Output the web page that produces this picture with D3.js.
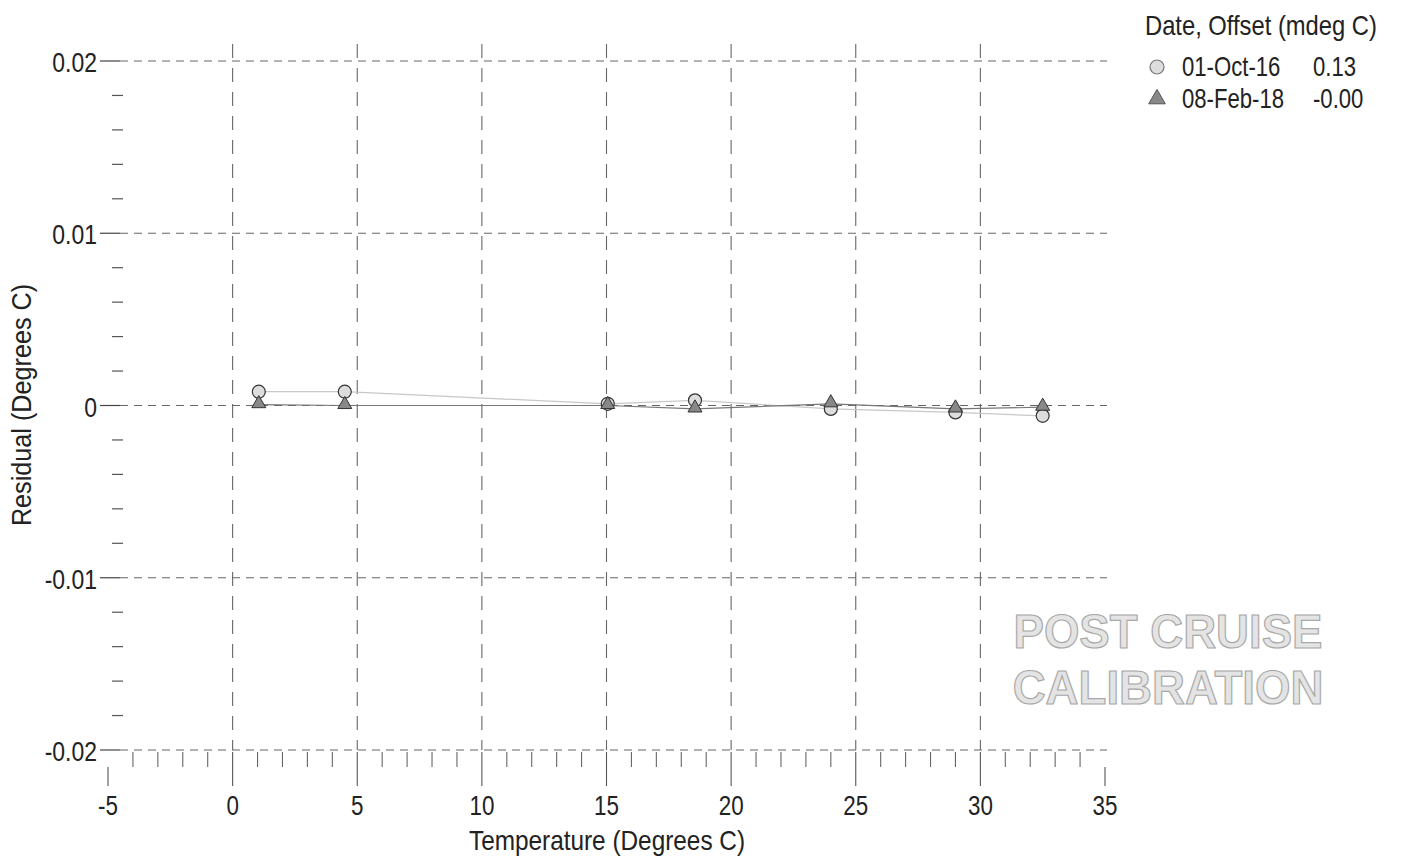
<!DOCTYPE html>
<html>
<head>
<meta charset="utf-8">
<script src="https://cdn.jsdelivr.net/npm/d3@7"></script>
<style>
  body { margin: 0; background: #fff; }
  svg { font-family: "Liberation Sans", Arial, sans-serif; }
</style>
</head>
<body>
<svg></svg>
<script>
// data
const temps = [1.05, 4.5, 15.05, 18.55, 24.0, 29.0, 32.5];
const resOct16 = [0.0008, 0.0008, 0.0001, 0.0003, -0.0002, -0.0004, -0.0006];
const resFeb18 = [0.00005, 0.0000, 0.0000, -0.0002, 0.0001, -0.0002, -0.0001];
const seriesNames = ["01-Oct-16", "08-Feb-18"];
const seriesOffsets = ["0.13", "-0.00"];
const xTicks = [-5, 0, 5, 10, 15, 20, 25, 30, 35];
const yTicks = [0.02, 0.01, 0, -0.01, -0.02];
const yTickLabels = ["0.02", "0.01", "0", "-0.01", "-0.02"];
const watermarkLines = ["POST CRUISE", "CALIBRATION"];

const width = 1406;
const height = 859;

const svg = d3.select("svg").attr("width", width).attr("height", height);

const xScale = d3.scaleLinear().domain([-5, 35]).range([108, 1105]);
const yScale = d3.scaleLinear().domain([-0.02, 0.02]).range([750, 61]);

const gridColor = "#666";
const textColor = "#222";

// the scan uses a narrow face, so squeeze text horizontally
const addText = (parent, x, y, str, size, anchor, sx, rotate) => {
  return parent
    .append("text")
    .attr("transform", `translate(${x}, ${y})${rotate ? " rotate(-90)" : ""} scale(${sx}, 1)`)
    .attr("text-anchor", anchor)
    .attr("font-size", size)
    .attr("fill", textColor)
    .text(str);
};

// horizontal grid lines
svg.append("g")
  .selectAll("line")
  .data(yTicks)
  .enter()
  .append("line")
  .attr("x1", 120)
  .attr("x2", 1107)
  .attr("y1", (d) => yScale(d))
  .attr("y2", (d) => yScale(d))
  .attr("stroke", gridColor)
  .attr("stroke-width", 1.2)
  .attr("stroke-dasharray", "8,6");

// solid stub of major y ticks
svg.append("g")
  .selectAll("line")
  .data(yTicks)
  .enter()
  .append("line")
  .attr("x1", 100)
  .attr("x2", 120)
  .attr("y1", (d) => yScale(d))
  .attr("y2", (d) => yScale(d))
  .attr("stroke", "#444")
  .attr("stroke-width", 1.2);

// minor y ticks
const yMinor = d3.range(-0.02, 0.0201, 0.002).filter(
  (v) => Math.abs(Math.round(v * 100) - v * 100) > 1e-6
);
svg.append("g")
  .selectAll("line")
  .data(yMinor)
  .enter()
  .append("line")
  .attr("x1", 112)
  .attr("x2", 123)
  .attr("y1", (d) => yScale(d))
  .attr("y2", (d) => yScale(d))
  .attr("stroke", "#555")
  .attr("stroke-width", 1.2);

// vertical grid lines (0..30)
svg.append("g")
  .selectAll("line")
  .data(xTicks.filter((d) => d > -5 && d < 35))
  .enter()
  .append("line")
  .attr("x1", (d) => xScale(d))
  .attr("x2", (d) => xScale(d))
  .attr("y1", 44)
  .attr("y2", 750)
  .attr("stroke", gridColor)
  .attr("stroke-width", 1.1)
  .attr("stroke-dasharray", "14,10");

// minor x ticks hanging under the bottom line
const xMinor = d3.range(-4, 35, 1).filter((d) => d % 5 !== 0);
svg.append("g")
  .selectAll("line")
  .data(xMinor)
  .enter()
  .append("line")
  .attr("x1", (d) => xScale(d))
  .attr("x2", (d) => xScale(d))
  .attr("y1", 752)
  .attr("y2", 767)
  .attr("stroke", "#666")
  .attr("stroke-width", 1.1);

// major x ticks below axis
svg.append("g")
  .selectAll("line")
  .data(xTicks)
  .enter()
  .append("line")
  .attr("x1", (d) => xScale(d))
  .attr("x2", (d) => xScale(d))
  .attr("y1", (d) => (d === -5 || d === 35 ? 767 : 752))
  .attr("y2", 786)
  .attr("stroke", "#555")
  .attr("stroke-width", 1.1);

// tick labels
const xLabels = svg.append("g");
xTicks.forEach((d) => {
  addText(xLabels, xScale(d), 815, d, 28, "middle", 0.8);
});

const yLabels = svg.append("g");
yTicks.forEach((d, i) => {
  addText(yLabels, 97, yScale(d) + 11, yTickLabels[i], 28, "end", 0.82);
});

// axis titles
addText(svg, 607, 850, "Temperature (Degrees C)", 28, "middle", 0.87);
addText(svg, 31, 405, "Residual (Degrees C)", 28, "middle", 0.9, true);

// series lines
const line = d3.line()
  .x((d) => xScale(d[0]))
  .y((d) => yScale(d[1]));

const octPts = temps.map((t, i) => [t, resOct16[i]]);
const febPts = temps.map((t, i) => [t, resFeb18[i]]);

svg.append("path")
  .attr("d", line(octPts))
  .attr("fill", "none")
  .attr("stroke", "#c8c8c8")
  .attr("stroke-width", 1.2);

svg.append("path")
  .attr("d", line(febPts))
  .attr("fill", "none")
  .attr("stroke", "#777")
  .attr("stroke-width", 1.2);

const triangle = d3.symbol().type(d3.symbolTriangle).size(85);

// circles
svg.append("g")
  .selectAll("circle")
  .data(octPts)
  .enter()
  .append("circle")
  .attr("cx", (d) => xScale(d[0]))
  .attr("cy", (d) => yScale(d[1]))
  .attr("r", 6.5)
  .attr("fill", "#ddd")
  .attr("stroke", "#333")
  .attr("stroke-width", 1.2);

// triangles
svg.append("g")
  .selectAll("path")
  .data(febPts)
  .enter()
  .append("path")
  .attr("d", triangle)
  .attr("transform", (d) => `translate(${xScale(d[0])}, ${yScale(d[1]) - 1})`)
  .attr("fill", "#888")
  .attr("stroke", "#333")
  .attr("stroke-width", 1);

// legend
const legend = svg.append("g");
addText(legend, 1145, 35, "Date, Offset (mdeg C)", 27, "start", 0.88);

seriesNames.forEach((name, i) => {
  const cy = 67 + i * 32;
  if (i === 0) {
    legend.append("circle").attr("cx", 1157).attr("cy", cy).attr("r", 7)
      .attr("fill", "#ddd").attr("stroke", "#777").attr("stroke-width", 1.2);
  } else {
    legend.append("path").attr("d", d3.symbol().type(d3.symbolTriangle).size(120))
      .attr("transform", `translate(1157, ${cy})`)
      .attr("fill", "#888").attr("stroke", "#555").attr("stroke-width", 1);
  }
  addText(legend, 1182, cy + 9, name, 27, "start", 0.82);
  addText(legend, 1313, cy + 9, seriesOffsets[i], 27, "start", 0.82);
});

// watermark
watermarkLines.forEach((str, i) => {
  svg.append("text")
    .attr("transform", `translate(1168, ${648 + i * 56}) scale(0.95, 1)`)
    .attr("font-size", 48)
    .attr("font-weight", "bold")
    .attr("text-anchor", "middle")
    .attr("fill", "#e4e4e4")
    .attr("stroke", "#a8a8a8")
    .attr("stroke-width", 1.2)
    .text(str);
});
</script>
</body>
</html>
